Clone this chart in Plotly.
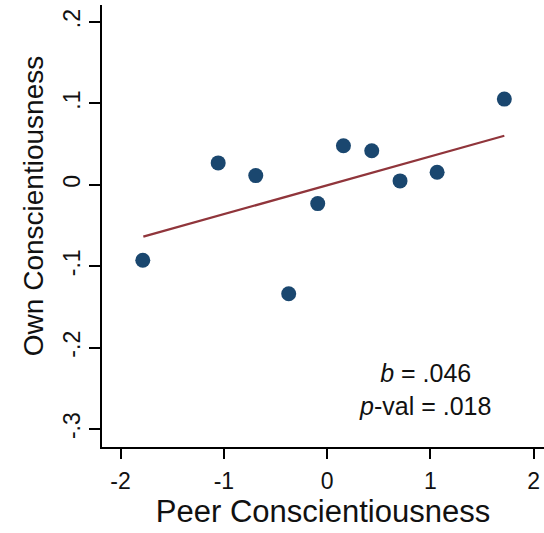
import plotly.graph_objects as go

# Binned means: peer vs own conscientiousness
peer = [-1.785, -1.055, -0.691, -0.372, -0.091, 0.158, 0.432, 0.706, 1.065, 1.716]
own = [-0.0926, 0.027, 0.0114, -0.1337, -0.023, 0.048, 0.042, 0.0049, 0.0156, 0.1054]

# Linear fit endpoints
fit_x = [-1.78, 1.716]
fit_y = [-0.0636, 0.0603]

x_ticks = [-2, -1, 0, 1, 2]
x_ticktext = ["-2", "-1", "0", "1", "2"]
y_ticks = [-0.3, -0.2, -0.1, 0, 0.1, 0.2]
y_ticktext = ["-.3", "-.2", "-.1", "0", ".1", ".2"]

FONT = "Liberation Sans, Arial, sans-serif"

fig = go.Figure()
fig.add_trace(go.Scatter(
    x=fit_x, y=fit_y, mode="lines",
    line=dict(color="#90353b", width=2.2),
    hoverinfo="skip", showlegend=False,
))
fig.add_trace(go.Scatter(
    x=peer, y=own, mode="markers",
    marker=dict(color="#1a476f", size=15, line=dict(width=0)),
    showlegend=False,
))

# Regression statistics
fig.add_annotation(
    x=0.73, y=0.129, xref="paper", yref="paper",
    xanchor="center", yanchor="middle",
    text="<i>b</i> = .046<br><i>p</i>-val = .018",
    showarrow=False, align="center",
    font=dict(family=FONT, size=25, color="#111111"),
)

# Y-axis title
fig.add_annotation(
    x=-0.156, y=0.545, xref="paper", yref="paper",
    xanchor="center", yanchor="middle", textangle=-90,
    text="Own Conscientiousness", showarrow=False,
    font=dict(family=FONT, size=28, color="#111111"),
)

fig.update_layout(
    width=544, height=533,
    margin=dict(l=102, r=0, t=5, b=86),
    paper_bgcolor="white", plot_bgcolor="white",
    font=dict(family=FONT, color="#111111"),
)
fig.update_xaxes(
    range=[-2.18, 2.1], tickvals=x_ticks, ticktext=x_ticktext,
    showgrid=False, zeroline=False,
    showline=True, linecolor="black", linewidth=2,
    ticks="outside", ticklen=10, tickwidth=1.5, tickcolor="black",
    tickfont=dict(size=23, family=FONT), ticklabelstandoff=2,
    title=dict(text="Peer Conscientiousness", font=dict(size=31, family=FONT), standoff=3),
)
fig.update_yaxes(
    range=[-0.322, 0.221], tickvals=y_ticks, ticktext=y_ticktext,
    showgrid=False, zeroline=False,
    showline=True, linecolor="black", linewidth=2,
    ticks="outside", ticklen=11, tickwidth=1.5, tickcolor="black",
    tickangle=-90,
    tickfont=dict(size=23, family=FONT), ticklabelstandoff=0,
)

fig.write_html("out.html")
